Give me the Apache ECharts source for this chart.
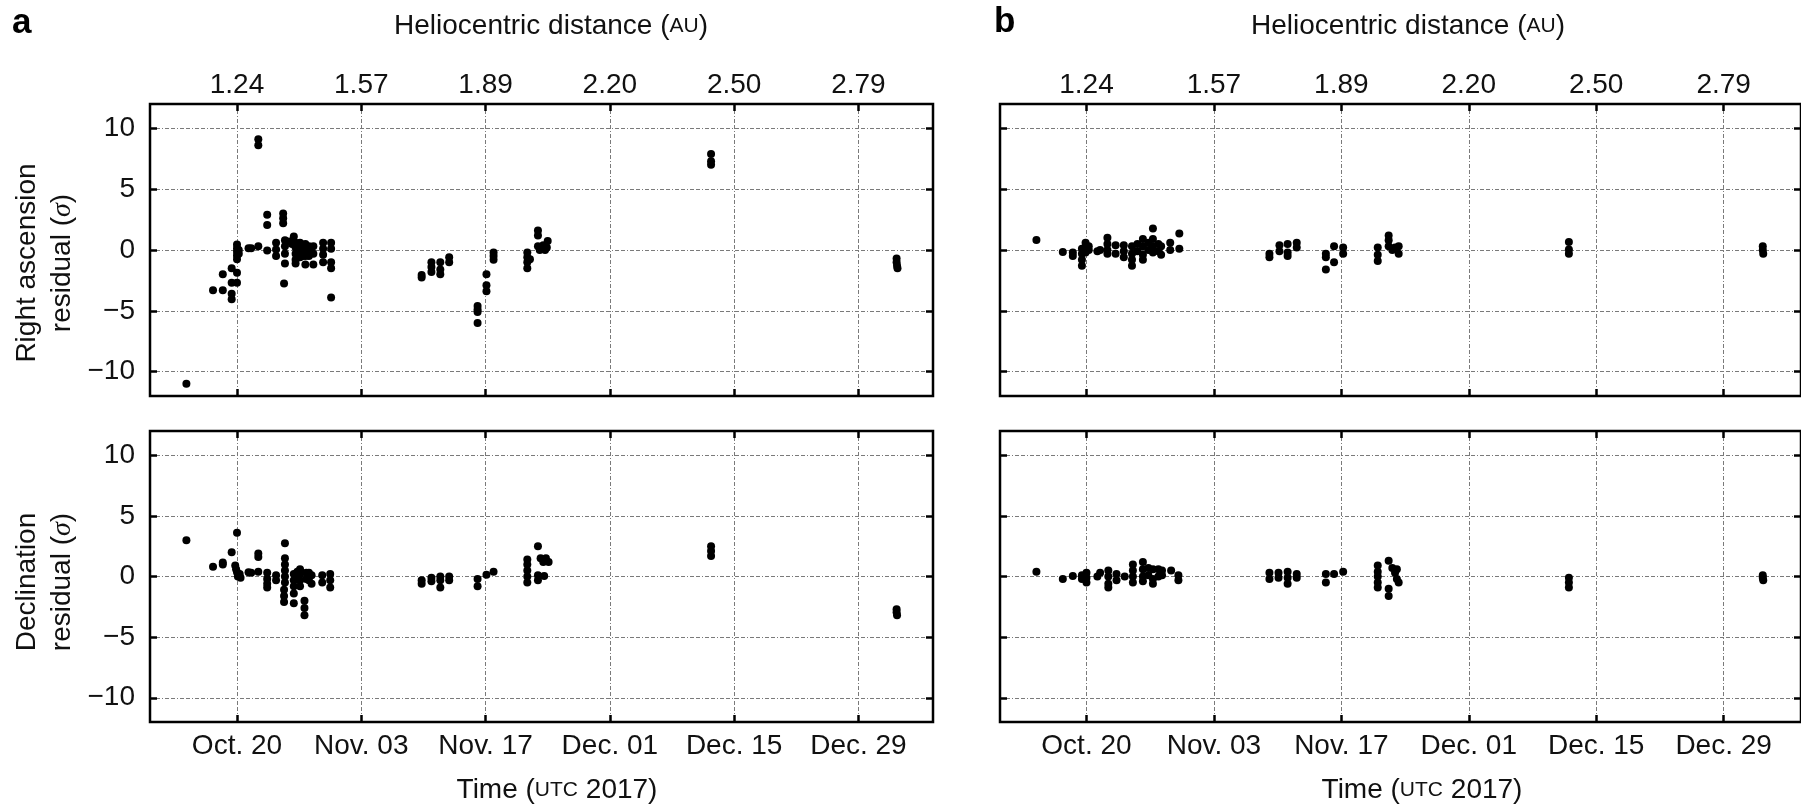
<!DOCTYPE html>
<html>
<head>
<meta charset="utf-8">
<script src="https://cdn.jsdelivr.net/npm/echarts@6/dist/echarts.min.js"></script>
<style>
  html, body { margin: 0; padding: 0; background: #fff; overflow: hidden; }
  #chart { width: 1801px; height: 806px; }
</style>
</head>
<body>
<div id="chart"></div>
<script>
// x values are day of year 2017 (Oct. 20 = 293)
var dayTicks = [293, 307, 321, 335, 349, 363];
var dateLabels = ['Oct. 20', 'Nov. 03', 'Nov. 17', 'Dec. 01', 'Dec. 15', 'Dec. 29'];
var distanceLabels = ['1.24', '1.57', '1.89', '2.20', '2.50', '2.79'];
var residualTicks = [-10, -5, 0, 5, 10];

// panel a, right ascension residual
var raA = [
  [287.3,-11.0],[290.3,-3.3],[291.4,-3.3],[291.4,-2.0],
  [292.4,-1.5],[292.4,-2.7],[292.4,-3.6],[292.4,-4.05],
  [293.0,-1.86],[293.0,-2.7],[293.0,0.45],[293.0,0.15],[293.0,-0.15],[293.0,-0.45],[293.0,-0.75],[293.2,0.0],[293.2,-0.3],
  [294.3,0.15],[294.6,0.15],[295.4,9.1],[295.4,8.6],[295.4,0.3],
  [296.4,2.9],[296.4,2.05],[296.4,-0.05],[297.4,0.6],[297.4,0.05],[297.4,-0.5],
  [298.2,3.0],[298.2,2.6],[298.2,2.2],
  [298.4,0.8],[298.4,0.3],[298.4,-0.3],[298.4,-1.1],[298.3,-2.75],
  [298.9,0.7],[299.2,0.5],[299.4,1.1],[299.6,0.6],[299.6,0.2],[299.6,-0.3],[299.6,-0.8],[299.6,-1.1],
  [300.1,0.6],[300.1,0.2],[300.1,-0.2],[300.1,-0.6],[300.4,0.4],[300.4,-0.1],[300.4,-0.5],
  [300.7,0.5],[300.7,0.0],[300.7,-0.5],[300.7,-1.2],[301.1,0.3],[301.1,-0.1],[301.1,-0.5],
  [301.6,0.3],[301.6,-0.3],[301.6,-1.2],[302.7,0.6],[302.7,0.1],[302.7,-0.4],[302.7,-1.0],
  [303.6,0.6],[303.6,0.1],[303.6,-1.0],[303.6,-1.5],[303.6,-3.9],
  [313.8,-2.05],[313.8,-2.25],[314.9,-1.0],[314.9,-1.4],[314.9,-1.8],
  [315.9,-1.0],[315.9,-1.6],[315.9,-2.0],[316.9,-0.6],[316.9,-1.0],
  [320.1,-4.6],[320.1,-4.9],[320.1,-5.1],[320.1,-6.0],
  [321.1,-2.0],[321.1,-2.9],[321.1,-3.4],[321.9,-0.2],[321.9,-0.5],[321.9,-0.8],
  [325.7,-0.2],[325.7,-0.6],[325.7,-1.0],[325.7,-1.5],[326.0,-0.75],
  [326.9,1.6],[326.9,1.2],[326.9,0.3],[327.1,0.0],[327.5,0.4],[327.7,0.0],[328.0,0.75],[327.9,0.2],
  [346.4,7.9],[346.4,7.3],[346.4,7.0],
  [367.3,-0.7],[367.3,-1.0],[367.35,-1.3],[367.4,-1.5]
];

// panel a, declination residual
var decA = [
  [287.3,3.0],[290.3,0.8],[291.4,1.15],[291.4,1.0],[292.4,2.0],
  [293.0,3.6],[292.8,0.9],[292.9,0.6],[293.0,0.35],[293.1,0.0],[293.3,0.2],[293.4,-0.1],
  [294.3,0.35],[294.6,0.3],[295.4,1.9],[295.4,1.6],[295.4,0.4],
  [296.4,0.3],[296.4,-0.2],[296.4,-0.6],[296.4,-0.9],[297.4,0.1],[297.4,-0.3],
  [298.4,2.75],[298.4,1.5],[298.4,1.0],[298.4,0.5],[298.4,0.0],[298.4,-0.5],[298.3,-1.1],[298.3,-1.6],[298.3,-2.1],
  [299.4,0.2],[299.4,-0.3],[299.4,-0.8],[299.4,-1.4],[299.4,-2.2],[299.8,0.4],[299.8,-0.1],
  [300.1,0.6],[300.1,0.2],[300.1,-0.3],[300.1,-0.8],[300.6,-2.0],[300.6,-2.6],[300.6,-3.2],
  [300.8,0.3],[300.8,-0.2],[301.1,0.3],[301.1,-0.3],[301.4,0.1],[301.4,-0.6],
  [302.6,0.1],[302.6,-0.5],[303.5,0.2],[303.5,-0.3],[303.5,-0.9],
  [313.8,-0.3],[313.8,-0.6],[314.9,-0.1],[314.9,-0.4],[315.9,0.0],[315.9,-0.3],[315.9,-0.9],
  [316.9,0.0],[316.9,-0.3],[320.1,-0.2],[320.1,-0.8],[321.1,0.15],[321.9,0.4],
  [325.7,1.4],[325.7,1.0],[325.7,0.5],[325.7,0.0],[325.7,-0.5],
  [326.9,2.5],[326.9,0.1],[326.9,-0.3],[327.2,1.5],[327.5,1.2],[327.8,1.5],[328.1,1.2],[327.6,0.05],
  [346.4,2.5],[346.4,2.1],[346.4,1.7],
  [367.3,-2.7],[367.3,-2.95],[367.35,-3.2]
];

// panel b, right ascension residual
var raB = [
  [287.5,0.82],[290.4,-0.16],[291.5,-0.2],[291.5,-0.5],
  [292.5,0.1],[292.5,-0.3],[292.5,-0.8],[292.5,-1.3],[292.9,0.6],[292.9,0.2],[292.9,-0.2],
  [293.25,0.3],[293.25,0.0],[294.2,-0.1],[294.5,0.0],
  [295.3,1.0],[295.3,0.5],[295.3,0.0],[295.3,-0.3],[296.2,0.4],[296.2,-0.3],
  [297.1,0.4],[297.1,-0.1],[297.1,-0.6],[298.0,0.3],[298.0,-0.3],[298.0,-0.8],[298.0,-1.3],
  [298.6,0.5],[298.6,-0.1],[299.2,0.9],[299.2,0.3],[299.2,-0.4],[299.2,-0.8],[299.8,0.6],[299.8,0.0],
  [300.3,1.76],[300.3,0.9],[300.3,0.3],[300.3,-0.2],[300.9,0.5],[300.9,-0.1],[301.2,0.3],[301.2,-0.4],
  [302.2,0.6],[302.2,0.0],[303.2,1.35],[303.2,0.1],
  [313.1,-0.3],[313.1,-0.6],[314.2,0.4],[314.2,-0.1],[315.1,0.5],[315.1,-0.2],[315.1,-0.5],
  [316.1,0.6],[316.1,0.2],[319.3,-0.3],[319.3,-0.6],[319.3,-1.6],[320.2,0.3],[320.2,-1.0],
  [321.2,0.2],[321.2,-0.3],[325.0,0.2],[325.0,-0.4],[325.0,-0.9],[326.2,1.2],[326.2,0.8],
  [326.2,0.3],[326.6,0.0],[326.9,0.2],[327.3,0.3],[327.3,-0.3],
  [346.0,0.66],[346.0,0.05],[346.0,-0.3],
  [367.3,0.3],[367.3,0.0],[367.35,-0.3]
];

// panel b, declination residual
var decB = [
  [287.5,0.4],[290.4,-0.2],[291.5,0.05],[292.5,0.1],[292.5,-0.2],
  [293.0,0.3],[293.0,-0.1],[293.0,-0.5],[294.2,0.0],[294.5,0.3],
  [295.4,0.5],[295.4,0.0],[295.4,-0.6],[295.4,-0.9],[296.3,0.2],[296.3,-0.3],[297.2,0.0],
  [298.1,1.0],[298.1,0.5],[298.1,0.0],[298.1,-0.5],[299.2,1.2],[299.2,0.6],[299.2,0.0],[299.2,-0.4],
  [299.8,0.7],[299.8,0.1],[300.3,0.6],[300.3,-0.2],[300.3,-0.6],[300.9,0.6],[300.9,0.0],
  [301.3,0.5],[301.3,0.1],[302.3,0.5],[303.1,0.1],[303.1,-0.3],
  [313.1,0.3],[313.1,-0.2],[314.1,0.3],[314.1,-0.1],[315.1,0.4],[315.1,-0.1],[315.1,-0.6],
  [316.1,0.2],[316.1,-0.1],[319.3,0.2],[319.3,-0.5],[320.2,0.2],[321.2,0.4],
  [325.0,0.9],[325.0,0.4],[325.0,0.0],[325.0,-0.5],[325.0,-0.9],
  [326.2,1.3],[326.2,-1.0],[326.2,-1.6],[326.6,0.7],[326.9,0.3],[327.1,0.6],[327.1,-0.2],[327.3,-0.5],
  [346.0,-0.1],[346.0,-0.5],[346.0,-0.9],
  [367.3,0.1],[367.3,-0.1],[367.35,-0.3]
];

var FONT = '"Liberation Sans", Arial, Helvetica, sans-serif';
var gridLine = { color: '#7a7a7a', width: 1, type: [4, 2, 4, 2, 1, 2] };
var tickStyle = { color: '#000', width: 2.5 };

var grids = [
  { left: 150, top: 104, width: 783, height: 292 },
  { left: 150, top: 431, width: 783, height: 291 },
  { left: 1000, top: 104, width: 810, height: 292 },
  { left: 1000, top: 431, width: 810, height: 291 }
];
var xRange = [[283.2, 371.4], [283.2, 371.4], [283.5, 371.5], [283.5, 371.5]];

var xAxis = [], yAxis = [];
grids.forEach(function (g, i) {
  g.show = true;
  g.borderColor = '#000';
  g.borderWidth = 2.5;
  g.containLabel = false;
  var isTop = i % 2 === 0;
  var isA = i < 2;
  xAxis.push({
    type: 'value', gridIndex: i, position: 'bottom',
    min: xRange[i][0], max: xRange[i][1],
    axisLine: { show: false, onZero: false },
    axisTick: { show: true, inside: true, length: 7, customValues: dayTicks, lineStyle: tickStyle },
    axisLabel: {
      show: !isTop, customValues: dayTicks, margin: 10,
      fontSize: 28, fontFamily: FONT, color: '#111',
      formatter: function (v) { return dateLabels[dayTicks.indexOf(v)]; }
    },
    splitLine: { show: true, lineStyle: gridLine }
  });
  xAxis.push({
    type: 'value', gridIndex: i, position: 'top',
    min: xRange[i][0], max: xRange[i][1],
    axisLine: { show: false, onZero: false },
    axisTick: { show: true, inside: true, length: 7, customValues: dayTicks, lineStyle: tickStyle },
    axisLabel: {
      show: isTop, customValues: dayTicks, margin: 5,
      fontSize: 28, fontFamily: FONT, color: '#111',
      formatter: function (v) { return distanceLabels[dayTicks.indexOf(v)]; }
    },
    splitLine: { show: false }
  });
  yAxis.push({
    type: 'value', gridIndex: i, position: 'left', min: -12, max: 12,
    axisLine: { show: false, onZero: false },
    axisTick: { show: true, inside: true, length: 7, customValues: residualTicks, lineStyle: tickStyle },
    axisLabel: {
      show: isA, customValues: residualTicks, margin: 15,
      fontSize: 28, fontFamily: FONT, color: '#111',
      formatter: function (v) { return v < 0 ? '\u2212' + (-v) : String(v); }
    },
    splitLine: { show: true, lineStyle: gridLine }
  });
  yAxis.push({
    type: 'value', gridIndex: i, position: 'right', min: -12, max: 12,
    axisLine: { show: false, onZero: false },
    axisTick: { show: true, inside: true, length: 7, customValues: residualTicks, lineStyle: tickStyle },
    axisLabel: { show: false },
    splitLine: { show: false }
  });
});

var panels = [raA, decA, raB, decB];
var series = panels.map(function (d, i) {
  return {
    type: 'scatter', xAxisIndex: 2 * i, yAxisIndex: 2 * i,
    data: d, symbolSize: 8,
    itemStyle: { color: '#000', opacity: 1 },
    silent: true
  };
});

function txt(x, y, text, rich, opts) {
  var el = {
    type: 'text', x: x, y: y, silent: true,
    style: {
      text: text, rich: rich,
      font: '28px ' + FONT, fill: '#111',
      align: 'center', verticalAlign: 'middle',
      textAlign: 'center', textVerticalAlign: 'middle'
    }
  };
  if (opts) {
    for (var k in opts) {
      if (k === 'style') { for (var s in opts.style) el.style[s] = opts.style[s]; }
      else el[k] = opts[k];
    }
  }
  return el;
}

var richBase = {
  n: { fontSize: 28, fontFamily: FONT, fill: '#111', color: '#111' },
  s: { fontSize: 21, fontFamily: FONT, fill: '#111', color: '#111' }
};
var richName = {
  n: { fontSize: 28, fontFamily: FONT, fill: '#111', color: '#111', lineHeight: 35 },
  i: { fontSize: 28, fontFamily: '"Liberation Serif", "DejaVu Serif", serif', fontStyle: 'italic', fill: '#111', color: '#111', lineHeight: 35 }
};

var helio = '{n|Heliocentric distance (}{s|AU}{n|)}';
var timeT = '{n|Time (}{s|UTC}{n| 2017)}';

var graphic = [
  txt(12, 23, 'a', null, { style: { font: 'bold 35px ' + FONT, fill: '#000', align: 'left', textAlign: 'left' } }),
  txt(994, 22, 'b', null, { style: { font: 'bold 35px ' + FONT, fill: '#000', align: 'left', textAlign: 'left' } }),
  txt(551, 26, helio, richBase),
  txt(1408, 26, helio, richBase),
  txt(557, 790, timeT, richBase),
  txt(1422, 790, timeT, richBase),
  txt(45, 263, '{n|Right ascension}\n{n|residual (}{i|\u03c3}{n|)}', richName, { rotation: Math.PI / 2 }),
  txt(45, 582, '{n|Declination}\n{n|residual (}{i|\u03c3}{n|)}', richName, { rotation: Math.PI / 2 })
];

var chart = echarts.init(document.getElementById('chart'), null, { renderer: 'canvas' });
chart.setOption({
  backgroundColor: '#fff',
  animation: false,
  grid: grids,
  xAxis: xAxis,
  yAxis: yAxis,
  series: series,
  graphic: graphic
});
</script>
</body>
</html>
